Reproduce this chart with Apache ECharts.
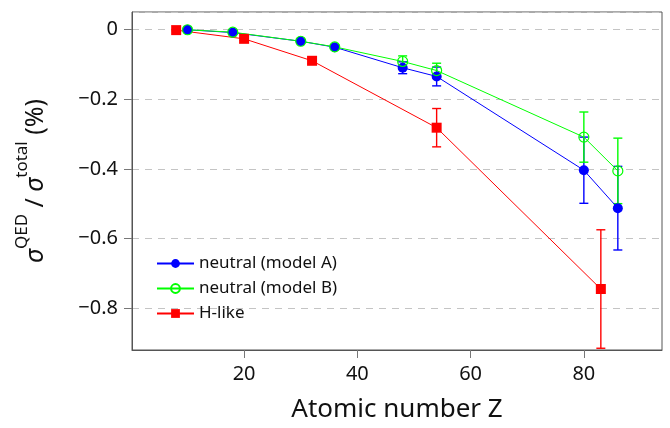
<!DOCTYPE html>
<html>
<head>
<meta charset="utf-8">
<script src="https://cdn.jsdelivr.net/npm/echarts@6/dist/echarts.min.js"></script>
<style>
  html, body { margin: 0; padding: 0; background: #fff; }
  #chart { width: 670px; height: 428px; }
</style>
</head>
<body>
<div id="chart"></div>
<script>
// --- data ---
const zNeutral = [10, 18, 30, 36, 48, 54, 80, 86]
const modelA = [-0.001, -0.009, -0.034, -0.051, -0.110, -0.135, -0.404, -0.513]
const modelAErr = [0.002, 0.003, 0.004, 0.006, 0.017, 0.027, 0.095, 0.12]
const modelB = [-0.001, -0.008, -0.034, -0.050, -0.092, -0.118, -0.309, -0.406]
const modelBErr = [0.002, 0.003, 0.004, 0.006, 0.016, 0.021, 0.072, 0.094]
const zHlike = [8, 20, 32, 54, 83]
const hLike = [-0.002, -0.027, -0.090, -0.282, -0.745]
const hLikeErr = [0.002, 0.004, 0.008, 0.055, 0.17]

const FONT = 'Noto Sans'
const BLUE = '#0000ff'
const GREEN = '#00ff00'
const RED = '#ff0000'

const pairs = (xs, ys) => xs.map((x, i) => [x, ys[i]])
const errData = (xs, ys, es) => xs.map((x, i) => [x, ys[i] - es[i], ys[i] + es[i]])

// error bar drawn through the axis scales
const errorSeries = (data, color) => ({
  type: 'custom',
  data: data,
  silent: true,
  renderItem: (params, api) => {
    const top = api.coord([api.value(0), api.value(2)])
    const bot = api.coord([api.value(0), api.value(1)])
    const w = 4.5
    const style = { stroke: color, lineWidth: 1.4 }
    return {
      type: 'group',
      children: [
        { type: 'line', shape: { x1: top[0], y1: top[1], x2: bot[0], y2: bot[1] }, style },
        { type: 'line', shape: { x1: top[0] - w, y1: top[1], x2: top[0] + w, y2: top[1] }, style },
        { type: 'line', shape: { x1: bot[0] - w, y1: bot[1], x2: bot[0] + w, y2: bot[1] }, style },
      ],
    }
  },
})

const fmtY = (v) => {
  const r = Math.round(v * 5)
  if (Math.abs(v * 5 - r) > 1e-6) return ''
  if (r === 0) return '0'
  return (v < 0 ? '\u2212' : '') + Math.abs(r / 5).toFixed(1)
}

const chart = echarts.init(document.getElementById('chart'))
chart.setOption({
  animation: false,
  grid: {
    left: 132, right: 8, top: 12, bottom: 76,
    show: true, borderColor: '#555', borderWidth: 1, backgroundColor: 'transparent',
  },
  legend: {
    orient: 'vertical',
    left: 156, top: 254,
    padding: 0,
    itemWidth: 37, itemHeight: 11, itemGap: 6,
    textStyle: { fontFamily: FONT, fontSize: 17, color: '#111', lineHeight: 19 },
    data: ['neutral (model A)', 'neutral (model B)', 'H-like'],
  },
  xAxis: {
    type: 'value',
    min: 0.2, max: 93.8,
    name: 'Atomic number Z',
    nameLocation: 'middle',
    nameGap: 47,
    nameTextStyle: { fontFamily: FONT, fontSize: 26, color: '#111' },
    axisLine: { show: true, onZero: false, lineStyle: { color: '#555' } },
    axisTick: { show: true, length: 8, lineStyle: { color: '#777' } },
    axisLabel: {
      fontFamily: FONT, fontSize: 20, color: '#111', margin: 14,
      showMinLabel: false, showMaxLabel: false,
      formatter: (v) => (Math.abs(v % 20) < 1e-6 ? String(v) : ''),
    },
    splitLine: { show: false },
  },
  yAxis: {
    type: 'value',
    min: -0.92, max: 0.05,
    name: '{s|σ}{sup|QED}{m| / }{s|σ}{sup|total}{m| (%)}',
    nameLocation: 'middle',
    nameRotate: 90,
    nameGap: 84,
    nameTextStyle: {
      fontFamily: FONT, color: '#111',
      rich: {
        s: { fontFamily: FONT, fontSize: 25, fontStyle: 'italic', verticalAlign: 'bottom', lineHeight: 34, color: '#111' },
        sup: { fontFamily: FONT, fontSize: 17, verticalAlign: 'top', lineHeight: 34, color: '#111' },
        m: { fontFamily: FONT, fontSize: 25, verticalAlign: 'bottom', lineHeight: 34, color: '#111' },
      },
    },
    axisLine: { show: true, onZero: false, lineStyle: { color: '#555' } },
    axisTick: { show: true, length: 8, lineStyle: { color: '#777' } },
    axisLabel: {
      fontFamily: FONT, fontSize: 20, color: '#111', margin: 14,
      showMinLabel: false, showMaxLabel: false,
      formatter: fmtY,
    },
    splitLine: { show: true, lineStyle: { color: '#c4c4c4', type: [7, 6], width: 1.2 } },
  },
  series: [
    errorSeries(errData(zNeutral, modelA, modelAErr), BLUE),
    {
      name: 'neutral (model A)',
      type: 'line',
      data: pairs(zNeutral, modelA),
      symbol: 'circle', symbolSize: 10,
      itemStyle: { color: BLUE },
      lineStyle: { color: BLUE, width: 1 },
    },
    errorSeries(errData(zNeutral, modelB, modelBErr), GREEN),
    {
      name: 'neutral (model B)',
      type: 'line',
      data: pairs(zNeutral, modelB),
      symbol: 'circle', symbolSize: 10,
      itemStyle: { color: 'rgba(255,255,255,0)', borderColor: GREEN, borderWidth: 1.2 },
      lineStyle: { color: GREEN, width: 1 },
    },
    errorSeries(errData(zHlike, hLike, hLikeErr), RED),
    {
      name: 'H-like',
      type: 'line',
      data: pairs(zHlike, hLike),
      symbol: 'rect', symbolSize: 10,
      itemStyle: { color: RED },
      lineStyle: { color: RED, width: 1 },
    },
  ],
})
</script>
</body>
</html>
